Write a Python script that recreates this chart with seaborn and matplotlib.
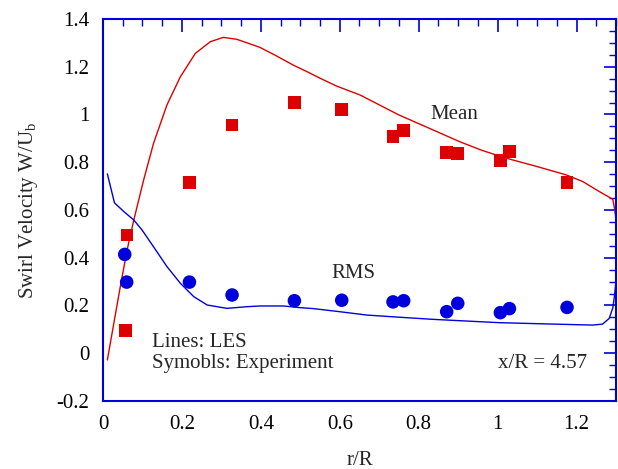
import matplotlib
matplotlib.use("Agg")
import matplotlib.pyplot as plt
import seaborn as sns
from matplotlib.ticker import MultipleLocator

sns.set_theme(style="white")
plt.rcParams['font.family'] = ['Liberation Serif', 'DejaVu Serif']
plt.rcParams['mathtext.fontset'] = 'custom'
plt.rcParams['mathtext.rm'] = 'Liberation Serif'
plt.rcParams['mathtext.it'] = 'Liberation Serif'

# LES mean swirl
les_mean_r = [0.011, 0.03, 0.045, 0.061, 0.078, 0.103, 0.128, 0.162, 0.196, 0.234, 0.272, 0.305,
              0.339, 0.398, 0.44, 0.482, 0.52, 0.55, 0.592, 0.651, 0.75, 0.83, 0.904, 0.96, 1.022,
              1.1, 1.174, 1.216, 1.258, 1.292, 1.297, 1.3]
les_mean_w = [-0.028, 0.15, 0.29, 0.432, 0.558, 0.726, 0.879, 1.04, 1.158, 1.256, 1.305, 1.323,
              1.315, 1.281, 1.245, 1.207, 1.177, 1.152, 1.119, 1.082, 0.998, 0.94, 0.886, 0.85, 0.817,
              0.782, 0.747, 0.719, 0.677, 0.645, 0.60, 0.56]
# LES RMS swirl
les_rms_r = [0.011, 0.029, 0.053, 0.078, 0.099, 0.128, 0.162, 0.196, 0.230, 0.264, 0.314, 0.365,
             0.398, 0.457, 0.499, 0.533, 0.6, 0.668, 0.75, 0.836, 0.92, 1.005, 1.12, 1.241, 1.266,
             1.283, 1.292, 1.296, 1.3]
les_rms_w = [0.751, 0.630, 0.593, 0.558, 0.516, 0.446, 0.363, 0.293, 0.237, 0.202, 0.188, 0.195,
             0.198, 0.198, 0.191, 0.187, 0.174, 0.160, 0.151, 0.142, 0.135, 0.128, 0.123, 0.118, 0.122,
             0.146, 0.19, 0.237, 0.30]
# Experiment mean
exp_mean_r = [0.057, 0.061, 0.219, 0.327, 0.485, 0.605, 0.735, 0.762, 0.871, 0.899, 1.007, 1.030, 1.176]
exp_mean_w = [0.094, 0.495, 0.714, 0.956, 1.051, 1.020, 0.907, 0.932, 0.840, 0.835, 0.807, 0.844, 0.714]
# Experiment RMS
exp_rms_r = [0.055, 0.060, 0.219, 0.327, 0.485, 0.605, 0.735, 0.762, 0.871, 0.899, 1.007, 1.030, 1.176]
exp_rms_w = [0.414, 0.298, 0.298, 0.244, 0.220, 0.222, 0.215, 0.220, 0.174, 0.209, 0.170, 0.187, 0.192]

RED = '#dd0000'
BLUE = '#0000dd'
FS = 15

fig = plt.figure(figsize=(6.18, 4.69), dpi=100)
ax = fig.add_axes([0.1667, 0.145, 0.83, 0.8145])

sns.lineplot(x=les_mean_r, y=les_mean_w, ax=ax, color=RED, lw=1.0, sort=False, estimator=None)
sns.lineplot(x=les_rms_r, y=les_rms_w, ax=ax, color=BLUE, lw=1.0, sort=False, estimator=None)
sns.scatterplot(x=exp_mean_r, y=exp_mean_w, ax=ax, color=RED, marker='s', s=85, edgecolor='none', zorder=3)
sns.scatterplot(x=exp_rms_r, y=exp_rms_w, ax=ax, color=BLUE, marker='o', s=95, edgecolor='none', zorder=3)

ax.set_xlim(0, 1.3)
ax.set_ylim(-0.2, 1.4)
ax.xaxis.set_minor_locator(MultipleLocator(0.05))
ax.yaxis.set_minor_locator(MultipleLocator(0.05))
ax.set_xticks([0, 0.2, 0.4, 0.6, 0.8, 1.0, 1.2])
ax.set_xticklabels(['0', '0.2', '0.4', '0.6', '0.8', '1', '1.2'])
ax.set_yticks([-0.2, 0, 0.2, 0.4, 0.6, 0.8, 1.0, 1.2, 1.4])
ax.set_yticklabels(['-0.2', '0', '0.2', '0.4', '0.6', '0.8', '1', '1.2', '1.4'])

ax.tick_params(which='both', direction='in', top=True, right=True, color=BLUE,
               labelsize=FS, labelcolor='black', pad=10)
ax.tick_params(which='major', length=9, width=1.2)
ax.tick_params(which='minor', length=5, width=1.0)
for s in ax.spines.values():
    s.set_color(BLUE)
    s.set_linewidth(1.5)

ax.set_xlabel('r/R', fontsize=FS, labelpad=12)
ax.set_ylabel(r'Swirl Velocity W/U$_\mathrm{b}$', fontsize=FS, labelpad=12)

ax.text(0.83, 1.0, 'Mean', fontsize=FS, ha='left', va='center')
ax.text(0.58, 0.335, 'RMS', fontsize=FS, ha='left', va='center')
ax.text(0.125, 0.045, 'Lines: LES', fontsize=FS, ha='left', va='center')
ax.text(0.125, -0.045, 'Symobls: Experiment', fontsize=FS, ha='left', va='center')
ax.text(1.228, -0.045, 'x/R = 4.57', fontsize=FS, ha='right', va='center')

fig.savefig('out.png', dpi=100)
